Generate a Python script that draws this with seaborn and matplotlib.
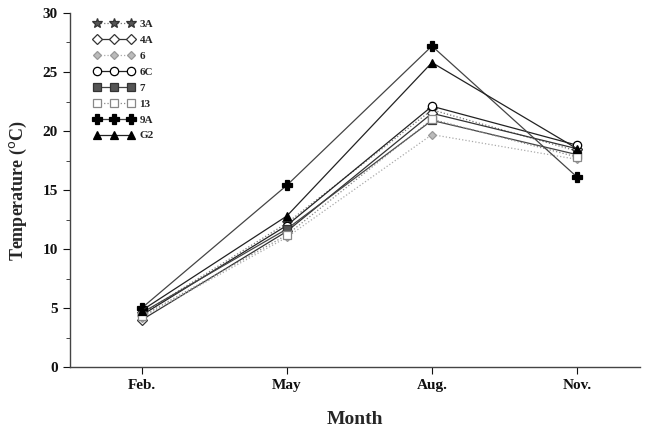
import matplotlib
matplotlib.use('Agg')
import matplotlib.pyplot as plt
from matplotlib.ticker import MultipleLocator
import pandas as pd
import seaborn as sns

months = ['Feb.', 'May', 'Aug.', 'Nov.']
sites = ['3A', '4A', '6', '6C', '7', '13', '9A', 'G2']

t_3A = [4.5, 12.2, 21.8, 18.3]
t_4A = [4.0, 11.5, 21.5, 18.5]
t_6 = [4.2, 11.0, 19.7, 17.6]
t_6C = [4.4, 12.0, 22.1, 18.8]
t_7 = [4.6, 11.7, 20.9, 18.0]
t_13 = [4.3, 11.2, 21.0, 17.8]
t_9A = [5.0, 15.4, 27.2, 16.1]
t_G2 = [4.8, 12.8, 25.8, 18.5]

values = [t_3A, t_4A, t_6, t_6C, t_7, t_13, t_9A, t_G2]

rows = []
for site, vals in zip(sites, values):
    for i, (m, v) in enumerate(zip(months, vals)):
        rows.append({'site': site, 'pos': i, 'month': m, 'temp': v})
df = pd.DataFrame(rows)

# marker / line style for each site
styles = {
    '3A': dict(color='#777777', marker='*', ls=':', mfc='#555555', mec='#333333', ms=7),
    '4A': dict(color='#333333', marker='D', ls='-', mfc='white', mec='#333333', ms=5),
    '6': dict(color='#aaaaaa', marker='D', ls=':', mfc='#bbbbbb', mec='#999999', ms=4.5),
    '6C': dict(color='#222222', marker='o', ls='-', mfc='white', mec='black', ms=6),
    '7': dict(color='#444444', marker='s', ls='-', mfc='#555555', mec='#333333', ms=5.5),
    '13': dict(color='#888888', marker='s', ls=':', mfc='white', mec='#888888', ms=5.5),
    '9A': dict(color='#444444', marker='P', ls='-', mfc='black', mec='black', ms=7),
    'G2': dict(color='#222222', marker='^', ls='-', mfc='black', mec='black', ms=6),
}

sns.set_style('ticks')
plt.rcParams['font.family'] = ['Liberation Serif', 'DejaVu Serif']

fig, ax = plt.subplots(figsize=(6.46, 4.32), dpi=100)
fig.subplots_adjust(left=0.108, right=0.99, bottom=0.15, top=0.97)

for site in sites:
    st = styles[site]
    sub = df[df['site'] == site]
    sns.lineplot(data=sub, x='pos', y='temp', ax=ax, label=site,
                 color=st['color'], linestyle=st['ls'], linewidth=0.9,
                 marker=st['marker'], markersize=st['ms'],
                 markerfacecolor=st['mfc'], markeredgecolor=st['mec'],
                 markeredgewidth=0.9)

ax.set_xlim(-0.495, 3.43)
ax.set_ylim(0, 30)
ax.set_xticks(range(len(months)))
ax.set_xticklabels(months)
ax.yaxis.set_major_locator(MultipleLocator(5))
ax.yaxis.set_minor_locator(MultipleLocator(2.5))
ax.tick_params(axis='both', which='major', direction='out', length=5, width=0.8,
               labelsize=11, colors='#111111')
ax.tick_params(axis='y', which='minor', direction='out', length=3, width=0.6)
for lab in ax.get_xticklabels() + ax.get_yticklabels():
    lab.set_fontweight('bold')

ax.set_xlabel('Month', fontsize=14, fontweight='bold', labelpad=14)
ax.set_ylabel('Temperature ($^{\\mathrm{o}}$C)', fontsize=13, fontweight='bold',
              labelpad=10)
sns.despine(ax=ax)
for sp in ['left', 'bottom']:
    ax.spines[sp].set_color('#444444')
    ax.spines[sp].set_linewidth(1.0)

leg = ax.legend(loc='upper left', bbox_to_anchor=(0.025, 1.01), frameon=False,
                numpoints=3, handlelength=3.6, handletextpad=0.5,
                labelspacing=0.55, prop={'weight': 'bold', 'size': 8})

fig.savefig('out.png', dpi=100)
